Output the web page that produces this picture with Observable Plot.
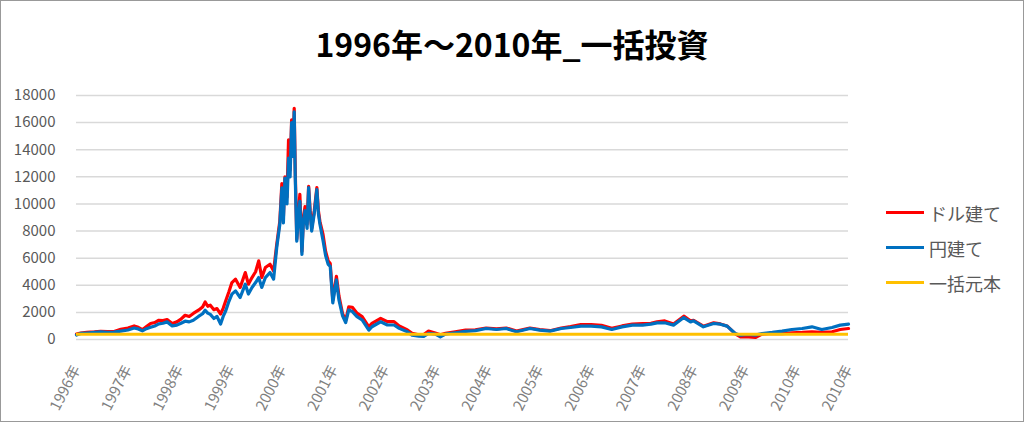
<!DOCTYPE html>
<html><head><meta charset="utf-8">
<script src="https://cdn.jsdelivr.net/npm/d3@7"></script>
<script src="https://cdn.jsdelivr.net/npm/@observablehq/plot@0.6"></script>
<style>
body{margin:0;background:#fff;}
#wrap{position:relative;width:1024px;height:422px;overflow:hidden;font-family:"Noto Sans CJK JP","Noto Sans",sans-serif;background:#fff;}
#frame{position:absolute;left:0;top:0;width:1022px;height:420px;border:1px solid #999;pointer-events:none;}
#title{position:absolute;left:0;top:0;width:1024px;height:80px;text-align:center;font-weight:bold;font-size:32px;line-height:86px;color:#000;}
#chart{position:absolute;left:0;top:80px;}
#legend{position:absolute;left:886px;top:195px;}
.item{display:flex;align-items:center;height:35px;font-size:18px;color:#595959;}
.sw{width:38px;height:3px;margin-right:5px;}
</style>
</head><body>
<div id="wrap">
  <div id="title">1996年～2010年_一括投資</div>
  <div id="chart"></div>
  <div id="legend"></div>
  <div id="frame"></div>
</div>
<script>
const seriesNames = ["ドル建て", "円建て", "一括元本"];
const seriesColors = ["#FF0000", "#0070C0", "#FFC000"];
const yTicks = [0,2000,4000,6000,8000,10000,12000,14000,16000,18000];
const xTicks = [1996,1997,1998,1999,2000,2001,2002,2003,2004,2005,2006,2007,2008,2009,2010,2011];
const xLabels = ["1996年","1997年","1998年","1999年","2000年","2001年","2002年","2003年","2004年","2005年","2006年","2007年","2008年","2009年","2010年","2010年"];
const principal = 380;
const t = [1996.00,1996.08,1996.20,1996.35,1996.47,1996.60,1996.73,1996.86,1997.00,1997.12,1997.20,1997.28,1997.36,1997.44,1997.52,1997.60,1997.68,1997.76,1997.86,1997.95,
1998.03,1998.11,1998.19,1998.27,1998.37,1998.45,1998.50,1998.55,1998.60,1998.67,1998.73,1998.80,1998.85,1998.90,1998.96,
1999.02,1999.09,1999.18,1999.28,1999.34,1999.41,1999.48,1999.54,1999.60,1999.67,1999.76,1999.83,1999.89,1999.95,1999.99,
2000.02,2000.05,2000.09,2000.12,2000.15,2000.18,2000.21,2000.23,2000.25,2000.28,2000.31,2000.34,2000.38,2000.41,2000.44,2000.48,2000.51,2000.54,2000.57,2000.62,2000.67,2000.70,2000.73,2000.79,2000.84,2000.89,2000.93,2000.98,
2001.05,2001.10,2001.17,2001.23,2001.29,2001.36,2001.45,2001.55,2001.68,2001.74,2001.91,
2002.04,2002.17,2002.27,2002.43,2002.52,2002.65,2002.74,2002.84,2002.97,
2003.07,2003.17,2003.36,2003.56,2003.75,2003.96,2004.16,2004.35,2004.55,2004.81,
2005.00,2005.20,2005.42,2005.60,2005.80,2006.00,2006.20,2006.40,2006.60,2006.80,
2007.00,2007.16,2007.28,2007.43,2007.60,2007.80,2007.93,2007.99,2008.18,2008.38,2008.51,2008.64,2008.80,2008.90,
2009.06,2009.19,2009.32,2009.52,2009.71,2009.90,2010.10,2010.29,2010.48,2010.68,2010.84,2011.00];
const usd = [400,480,520,560,610,580,590,750,850,1000,900,720,950,1180,1250,1420,1400,1470,1180,1300,
1500,1790,1700,1920,2160,2400,2770,2450,2530,2200,2280,1880,2300,2860,3500,
4200,4450,3840,4940,4080,4570,5000,5800,4570,5310,5550,5060,7000,8700,11500,
9000,12000,10500,14730,12500,16200,14000,17050,12500,7400,9200,10700,6500,9000,9800,8500,11300,9500,8200,9500,11200,9500,8700,7750,6500,5800,5600,2900,
4660,3200,1900,1400,2400,2380,1940,1690,940,1190,1560,
1320,1320,1000,700,450,350,350,620,480,
350,450,570,700,720,850,780,850,620,850,
730,650,850,950,1100,1100,1050,820,1000,1140,
1180,1200,1300,1370,1150,1720,1380,1420,980,1230,1150,1000,420,200,
200,150,400,450,440,490,520,570,520,570,740,810];
const jpy = [330,450,480,520,560,520,540,620,700,850,780,640,800,900,1000,1150,1200,1300,1000,1060,
1200,1350,1300,1420,1700,1900,2160,1950,1850,1550,1700,1140,1700,2120,2800,
3350,3590,3100,4080,3350,3840,4200,4570,3840,4570,4940,4450,6770,8480,11180,
8600,11900,10000,13380,12000,16000,13500,16800,12000,7260,9000,10200,6280,8800,9500,8200,11200,9300,8000,9300,11050,9300,8500,7300,6200,5550,5400,2700,
4400,2900,1750,1250,2180,2060,1690,1440,690,940,1310,
1070,1070,820,570,320,250,220,450,400,
200,400,500,600,650,810,740,810,570,810,
690,615,810,885,985,985,935,740,935,1060,
1060,1130,1230,1230,1060,1620,1300,1380,935,1180,1130,985,440,320,
370,320,440,520,615,740,810,935,740,885,1060,1130];

const data = t.map((d, i) => ({t: d, usd: usd[i], jpy: jpy[i]}));

const font = '"Noto Sans CJK JP","Noto Sans",sans-serif';
const chart = Plot.plot({
  width: 1024,
  height: 342,
  marginLeft: 76,
  marginRight: 176,
  marginTop: 15,
  marginBottom: 83,
  x: {type: "linear", domain: [1996, 2011]},
  y: {domain: [0, 18000]},
  style: {fontFamily: font, fontSize: "15px", background: "transparent", overflow: "visible"},
  marks: [
    Plot.ruleY(yTicks, {stroke: "#d9d9d9", strokeWidth: 1.5}),
    Plot.axisY(yTicks, {tickSize: 0, tickPadding: 21, label: null, fill: "#595959", fontSize: 15, tickFormat: d => String(d)}),
    Plot.axisX(xTicks, {tickSize: 0, tickPadding: 27, tickRotate: -63, label: null, fill: "#7f7f7f", fontSize: 15,
      tickFormat: d => xLabels[xTicks.indexOf(d)]}),
    Plot.lineY(data, {x: "t", y: "usd", stroke: seriesColors[0], strokeWidth: 3.2}),
    Plot.lineY(data, {x: "t", y: "jpy", stroke: seriesColors[1], strokeWidth: 3.2}),
    Plot.ruleY([principal], {stroke: seriesColors[2], strokeWidth: 3})
  ]
});
document.getElementById("chart").appendChild(chart);

const legend = document.getElementById("legend");
seriesNames.forEach((name, i) => {
  const item = document.createElement("div");
  item.className = "item";
  const sw = document.createElement("div");
  sw.className = "sw";
  sw.style.background = seriesColors[i];
  const label = document.createElement("span");
  label.textContent = name;
  item.appendChild(sw);
  item.appendChild(label);
  legend.appendChild(item);
});
</script>
</body></html>
